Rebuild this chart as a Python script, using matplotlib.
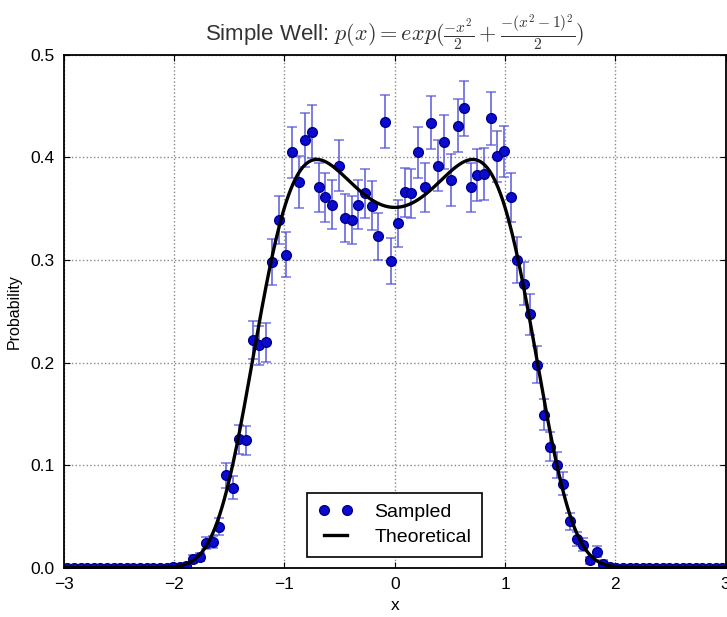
import numpy as np
import matplotlib
matplotlib.use('Agg')
import matplotlib.pyplot as plt

plt.rcParams['font.family'] = ['Liberation Sans', 'DejaVu Sans']
plt.rcParams['mathtext.fontset'] = 'cm'

# bin centres of the sampled histogram (100 bins on [-3, 3])
x_bins = np.linspace(-2.97, 2.97, 100)

# sampled probabilities, bins 16..82, zero elsewhere
p_mid = [0.001, 0.001, 0.002, 0.0085, 0.010, 0.024, 0.025, 0.040, 0.090, 0.078,
         0.125, 0.124, 0.222, 0.217, 0.220, 0.298, 0.339, 0.305, 0.405, 0.376,
         0.417, 0.425, 0.371, 0.361, 0.354, 0.392, 0.341, 0.339, 0.354, 0.365,
         0.353, 0.323, 0.435, 0.299, 0.336, 0.366, 0.365, 0.405, 0.371, 0.434,
         0.392, 0.415, 0.378, 0.431, 0.448, 0.371, 0.383, 0.384, 0.438, 0.401,
         0.406, 0.361, 0.300, 0.277, 0.247, 0.198, 0.149, 0.118, 0.100, 0.082,
         0.045, 0.028, 0.0225, 0.007, 0.0157, 0.004, 0.001]
err_mid = [0.001, 0.001, 0.002, 0.004, 0.004, 0.006, 0.006, 0.008, 0.012, 0.011,
           0.014, 0.014, 0.019, 0.019, 0.019, 0.022, 0.023, 0.022, 0.025, 0.025,
           0.026, 0.026, 0.024, 0.024, 0.024, 0.025, 0.023, 0.023, 0.024, 0.024,
           0.024, 0.023, 0.026, 0.022, 0.023, 0.024, 0.024, 0.025, 0.024, 0.026,
           0.025, 0.026, 0.025, 0.026, 0.027, 0.024, 0.025, 0.025, 0.026, 0.025,
           0.025, 0.024, 0.022, 0.021, 0.020, 0.018, 0.015, 0.014, 0.013, 0.011,
           0.008, 0.007, 0.006, 0.003, 0.005, 0.003, 0.001]
p_sampled = np.array([0.0] * 16 + p_mid + [0.0] * 17)
p_err = np.array([0.0] * 16 + err_mid + [0.0] * 17)

# theoretical density from the title formula, normalised
x_fine = np.linspace(-3, 3, 600)
x_norm = np.linspace(-6, 6, 4000)
f_norm = np.exp(-x_norm**2 / 2 - (x_norm**2 - 1)**2 / 2)
Z = np.trapezoid(f_norm, x_norm)
p_theory = np.exp(-x_fine**2 / 2 - (x_fine**2 - 1)**2 / 2) / Z

fig = plt.figure(figsize=(7.27, 6.17), dpi=100)
ax = fig.add_axes([0.088, 0.080, 0.910, 0.831])

ax.errorbar(x_bins, p_sampled, yerr=p_err, fmt='none', ecolor='#5050d8',
            elinewidth=1.3, capsize=3.5, capthick=1.1, alpha=0.8)
ax.plot(x_bins, p_sampled, 'o', color='#0a0ad0', markeredgecolor='#00008a',
        markersize=7, label='Sampled')
ax.plot(x_fine, p_theory, '-', color='black', linewidth=2.4, label='Theoretical')

ax.set_xlim(-3, 3)
ax.set_ylim(0, 0.5)
ax.set_xticks([-3, -2, -1, 0, 1, 2, 3])
ax.set_xticklabels(['\u22123', '\u22122', '\u22121', '0', '1', '2', '3'])
ax.set_yticks([0.0, 0.1, 0.2, 0.3, 0.4, 0.5])
ax.set_yticklabels(['0.0', '0.1', '0.2', '0.3', '0.4', '0.5'])
ax.tick_params(direction='in', length=4, labelsize=12.5, top=True, right=True, pad=7)
ax.grid(True, linestyle=':', color='#888888', linewidth=1.0)
for s in ax.spines.values():
    s.set_linewidth(1.3)

ax.set_xlabel('x', fontsize=12.5, labelpad=4)
ax.set_ylabel('Probability', fontsize=11.5, labelpad=6)
ax.set_title(r'Simple Well: $p(x) =exp(\frac{-x^2}{2} + \frac{-(x^2-1)^2}{2})$',
             fontsize=16, color='#333333', pad=10)

leg = ax.legend(loc='lower center', numpoints=2, fontsize=14, fancybox=False,
                edgecolor='black', framealpha=1, handlelength=1.8,
                handletextpad=1.1, borderaxespad=0.55, borderpad=0.55,
                labelspacing=0.4)
leg.get_frame().set_linewidth(1.2)

fig.savefig('out.png', dpi=100)
